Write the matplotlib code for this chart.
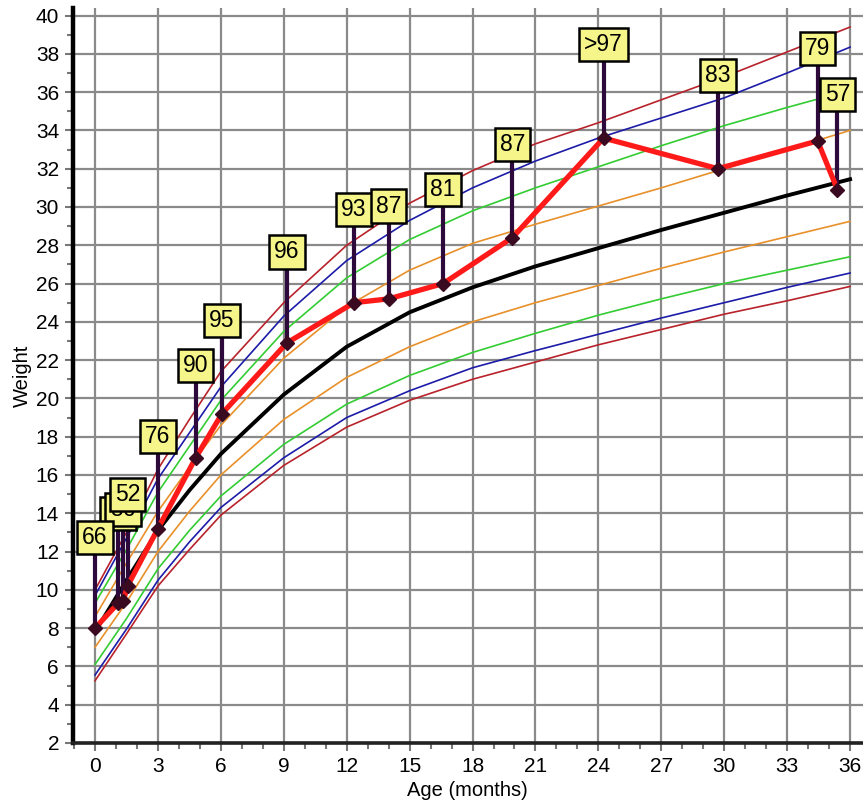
import numpy as np
import matplotlib
matplotlib.use("Agg")
import matplotlib.pyplot as plt
from matplotlib.ticker import MultipleLocator

plt.rcParams['font.family'] = ['Liberation Sans', 'DejaVu Sans']

# percentile curves (weight in lb)
ages_ref = [0, 1.5, 3, 4.5, 6, 9, 12, 15, 18, 21, 24, 27, 30, 33, 36]
p97 = [10.0, 13.0, 16.3, 18.9, 21.4, 25.0, 28.0, 30.2, 31.9, 33.3, 34.4, 35.6, 36.8, 38.1, 39.4]
p95 = [9.7, 12.7, 15.8, 18.2, 20.6, 24.3, 27.2, 29.3, 31.0, 32.4, 33.6, 34.65, 35.7, 37.0, 38.35]
p90 = [9.3, 12.1, 15.1, 17.5, 19.9, 23.5, 26.3, 28.3, 29.8, 31.0, 32.1, 33.2, 34.25, 35.2, 36.1]
p75 = [8.6, 11.4, 14.1, 16.4, 18.6, 22.1, 24.8, 26.7, 28.1, 29.1, 30.05, 31.0, 32.0, 33.0, 34.0]
p50 = [7.8, 10.5, 13.1, 15.2, 17.1, 20.2, 22.7, 24.5, 25.8, 26.9, 27.85, 28.8, 29.7, 30.6, 31.45]
p25 = [7.0, 9.35, 12.0, 14.1, 16.0, 18.9, 21.1, 22.7, 24.0, 25.0, 25.9, 26.8, 27.65, 28.45, 29.25]
p10 = [6.1, 8.5, 11.1, 13.1, 14.9, 17.6, 19.7, 21.2, 22.4, 23.4, 24.35, 25.2, 26.0, 26.7, 27.4]
p5 = [5.55, 7.95, 10.5, 12.5, 14.3, 16.9, 19.0, 20.4, 21.6, 22.5, 23.35, 24.2, 25.0, 25.8, 26.55]
p3 = [5.25, 7.7, 10.2, 12.1, 13.9, 16.5, 18.5, 19.9, 21.0, 21.9, 22.8, 23.6, 24.4, 25.1, 25.85]

# child's measurements
ages = [0, 1.1, 1.34, 1.55, 3.0, 4.8, 6.05, 9.15, 12.35, 14.0, 16.6, 19.9, 24.25, 29.7, 34.45, 35.4]
weights = [8.0, 9.3, 9.4, 10.2, 13.2, 16.9, 19.2, 22.9, 25.0, 25.2, 26.0, 28.4, 33.6, 32.0, 33.45, 30.9]
pct_labels = ['66', '59', '56', '52', '76', '90', '95', '96', '93', '87', '81', '87', '>97', '83', '79', '57']
label_y = [12.75, 14.0, 14.2, 15.0, 18.0, 21.7, 24.05, 27.65, 29.85, 30.05, 30.9, 33.25, 38.47, 36.85, 38.26, 35.86]

fig = plt.figure(figsize=(8.63, 8.06), dpi=100)
ax = fig.add_axes([0.0846, 0.0782, 0.915, 0.912])

curves = [(p97, '#b8232b'), (p95, '#1c1ca8'), (p90, '#33cc33'), (p75, '#e8902a'),
          (p25, '#e8902a'), (p10, '#33cc33'), (p5, '#1c1ca8'), (p3, '#b8232b')]
for vals, col in curves:
    ax.plot(ages_ref, vals, color=col, lw=1.2, zorder=3)
ax.plot(ages_ref, p50, color='black', lw=2.8, zorder=4)

# stems up to the percentile boxes
ax.vlines(ages, weights, label_y, color='#2e0a3c', lw=3.0, zorder=5)
ax.plot(ages, weights, color='#ff1a1a', lw=3.8, zorder=6)
ax.plot(ages, weights, ls='none', marker='D', ms=7, color='#3a0a20', zorder=7)

for i, (a, ly, t) in enumerate(zip(ages, label_y, pct_labels)):
    ax.text(a, ly, t, ha='center', va='center', fontsize=16.5, zorder=8 + (i == 0) * 5,
            bbox=dict(boxstyle='square,pad=0.22', fc='#f5f58a', ec='black', lw=1.8))

ax.set_xlim(-1.05, 36.6)
ax.set_ylim(2, 40.4)
ax.xaxis.set_major_locator(MultipleLocator(3))
ax.xaxis.set_minor_locator(MultipleLocator(1))
ax.yaxis.set_major_locator(MultipleLocator(2))
ax.yaxis.set_minor_locator(MultipleLocator(1))
ax.grid(True, which='major', color='#8a8a8a', lw=1.6, zorder=1)
ax.set_axisbelow(True)
ax.tick_params(which='major', direction='out', length=6, width=1.5, color='#777777',
               labelsize=15, pad=4)
ax.tick_params(which='minor', direction='out', length=4, width=1.5, color='#777777')
for s in ['top', 'right']:
    ax.spines[s].set_visible(False)
ax.spines['left'].set_linewidth(3.2)
ax.spines['bottom'].set_linewidth(2.6)
ax.spines['bottom'].set_color('#222222')

ax.set_xlabel('Age (months)', fontsize=14.5, labelpad=4)
ax.set_ylabel('Weight', fontsize=14.5, labelpad=3)

fig.savefig('out.png', dpi=100)
